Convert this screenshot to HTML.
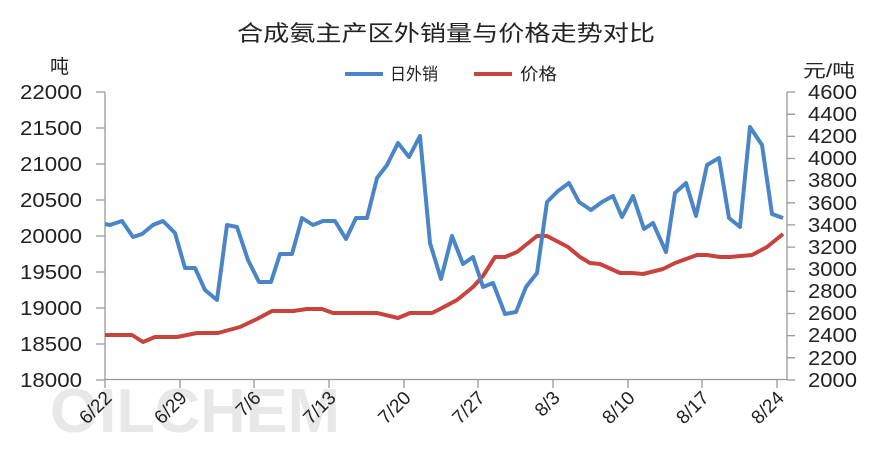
<!DOCTYPE html>
<html><head><meta charset="utf-8"><style>
body{margin:0;background:#fff}
svg{display:block;font-family:"Liberation Sans","Noto Sans CJK SC",sans-serif}
</style></head><body>
<svg width="896" height="466" viewBox="0 0 896 466">
<text x="237" y="41" font-size="22" fill="#222" textLength="418" lengthAdjust="spacingAndGlyphs">合成氨主产区外销量与价格走势对比</text>
<text x="50" y="73" font-size="19" fill="#222">吨</text>
<text x="803" y="77" font-size="18" fill="#222" textLength="52" lengthAdjust="spacingAndGlyphs">元/吨</text>
<line x1="345" y1="74" x2="383" y2="74" stroke="#4a86c6" stroke-width="4"/>
<text x="390" y="80" font-size="17" fill="#222" textLength="48" lengthAdjust="spacingAndGlyphs">日外销</text>
<line x1="474" y1="74" x2="512" y2="74" stroke="#c8423e" stroke-width="4"/>
<text x="520" y="80" font-size="17" fill="#222" textLength="37" lengthAdjust="spacingAndGlyphs">价格</text>
<text x="50" y="432" font-size="62" font-weight="bold" fill="#e8e8e8" textLength="290" lengthAdjust="spacingAndGlyphs">OILCHEM</text>
<g stroke="#999" stroke-width="1.3" fill="none">
<line x1="105" y1="92" x2="105" y2="380"/>
<line x1="105" y1="379.5" x2="787" y2="379.5"/>
<line x1="787" y1="92" x2="787" y2="380"/>
<path d="M96 92H105M96 128H105M96 164H105M96 200H105M96 236H105M96 272H105M96 308H105M96 344H105M96 380H105"/>
<path d="M787 92H795M787 114.2H795M787 136.3H795M787 158.5H795M787 180.6H795M787 202.8H795M787 224.9H795M787 247.1H795M787 269.2H795M787 291.4H795M787 313.5H795M787 335.7H795M787 357.8H795M787 380H795"/>
<path d="M105 380V388M180 380V388M254 380V388M329 380V388M404 380V388M478 380V388M553 380V388M628 380V388M702 380V388M777 380V388"/>
</g>
<g font-size="20" fill="#222" text-anchor="end">
<text x="82" y="99" textLength="62" lengthAdjust="spacingAndGlyphs">22000</text><text x="82" y="135" textLength="62" lengthAdjust="spacingAndGlyphs">21500</text><text x="82" y="171" textLength="62" lengthAdjust="spacingAndGlyphs">21000</text><text x="82" y="207" textLength="62" lengthAdjust="spacingAndGlyphs">20500</text><text x="82" y="243" textLength="62" lengthAdjust="spacingAndGlyphs">20000</text><text x="82" y="279" textLength="62" lengthAdjust="spacingAndGlyphs">19500</text><text x="82" y="315" textLength="62" lengthAdjust="spacingAndGlyphs">19000</text><text x="82" y="351" textLength="62" lengthAdjust="spacingAndGlyphs">18500</text><text x="82" y="387" textLength="62" lengthAdjust="spacingAndGlyphs">18000</text>
</g>
<g font-size="20" fill="#222">
<text x="808" y="99" textLength="49" lengthAdjust="spacingAndGlyphs">4600</text><text x="808" y="121" textLength="49" lengthAdjust="spacingAndGlyphs">4400</text><text x="808" y="143" textLength="49" lengthAdjust="spacingAndGlyphs">4200</text><text x="808" y="165" textLength="49" lengthAdjust="spacingAndGlyphs">4000</text><text x="808" y="187" textLength="49" lengthAdjust="spacingAndGlyphs">3800</text><text x="808" y="210" textLength="49" lengthAdjust="spacingAndGlyphs">3600</text><text x="808" y="232" textLength="49" lengthAdjust="spacingAndGlyphs">3400</text><text x="808" y="254" textLength="49" lengthAdjust="spacingAndGlyphs">3200</text><text x="808" y="276" textLength="49" lengthAdjust="spacingAndGlyphs">3000</text><text x="808" y="298" textLength="49" lengthAdjust="spacingAndGlyphs">2800</text><text x="808" y="320" textLength="49" lengthAdjust="spacingAndGlyphs">2600</text><text x="808" y="342" textLength="49" lengthAdjust="spacingAndGlyphs">2400</text><text x="808" y="365" textLength="49" lengthAdjust="spacingAndGlyphs">2200</text><text x="808" y="387" textLength="49" lengthAdjust="spacingAndGlyphs">2000</text>
</g>
<g font-size="19" fill="#222" text-anchor="end">
<text transform="translate(113,399) rotate(-45)">6/22</text>
<text transform="translate(188,399) rotate(-45)">6/29</text>
<text transform="translate(262,399) rotate(-45)">7/6</text>
<text transform="translate(337,399) rotate(-45)">7/13</text>
<text transform="translate(412,399) rotate(-45)">7/20</text>
<text transform="translate(486,399) rotate(-45)">7/27</text>
<text transform="translate(561,399) rotate(-45)">8/3</text>
<text transform="translate(636,399) rotate(-45)">8/10</text>
<text transform="translate(710,399) rotate(-45)">8/17</text>
<text transform="translate(785,399) rotate(-45)">8/24</text>
</g>
<polyline fill="none" stroke="#c8423e" stroke-width="4" stroke-linejoin="round" points="105,335 132,335 143,342 155,337 177,337 197,333 218,333 240,327 257,319 272,311 293,311 307,309 322,309 333,313 377,313 398,318 410,313 432,313 440,309 457,300 473,287 483,276 495,257 505,257 517,252 537,236 547,236 568,247 580,257 590,263 600,264 620,273 632,273 643,274 663,269 675,263 697,255 707,255 720,257 730,257 752,255 767,247 783,234"/>
<polyline fill="none" stroke="#4a86c6" stroke-width="4" stroke-linejoin="round" points="105,224 110,225 122,221 133,237 142,234 153,225 163,221 175,233 185,268 195,268 205,290 217,300 227,225 237,227 248,260 259,282 271,282 280,254 292,254 302,218 313,225 323,221 335,221 346,239 356,218 367,218 377,178 387,165 398,143 409,157 420,136 430,243 441,279 452,236 463,264 473,257 483,287 493,283 505,314 516,312 526,287 537,273 547,202 558,191 569,183 579,202 591,210 602,202 613,196 622,217 633,196 644,229 653,223 666,252 675,193 686,183 696,216 707,165 719,158 729,218 740,227 750,127 762,145 772,214 783,218"/>
</svg>
</body></html>
